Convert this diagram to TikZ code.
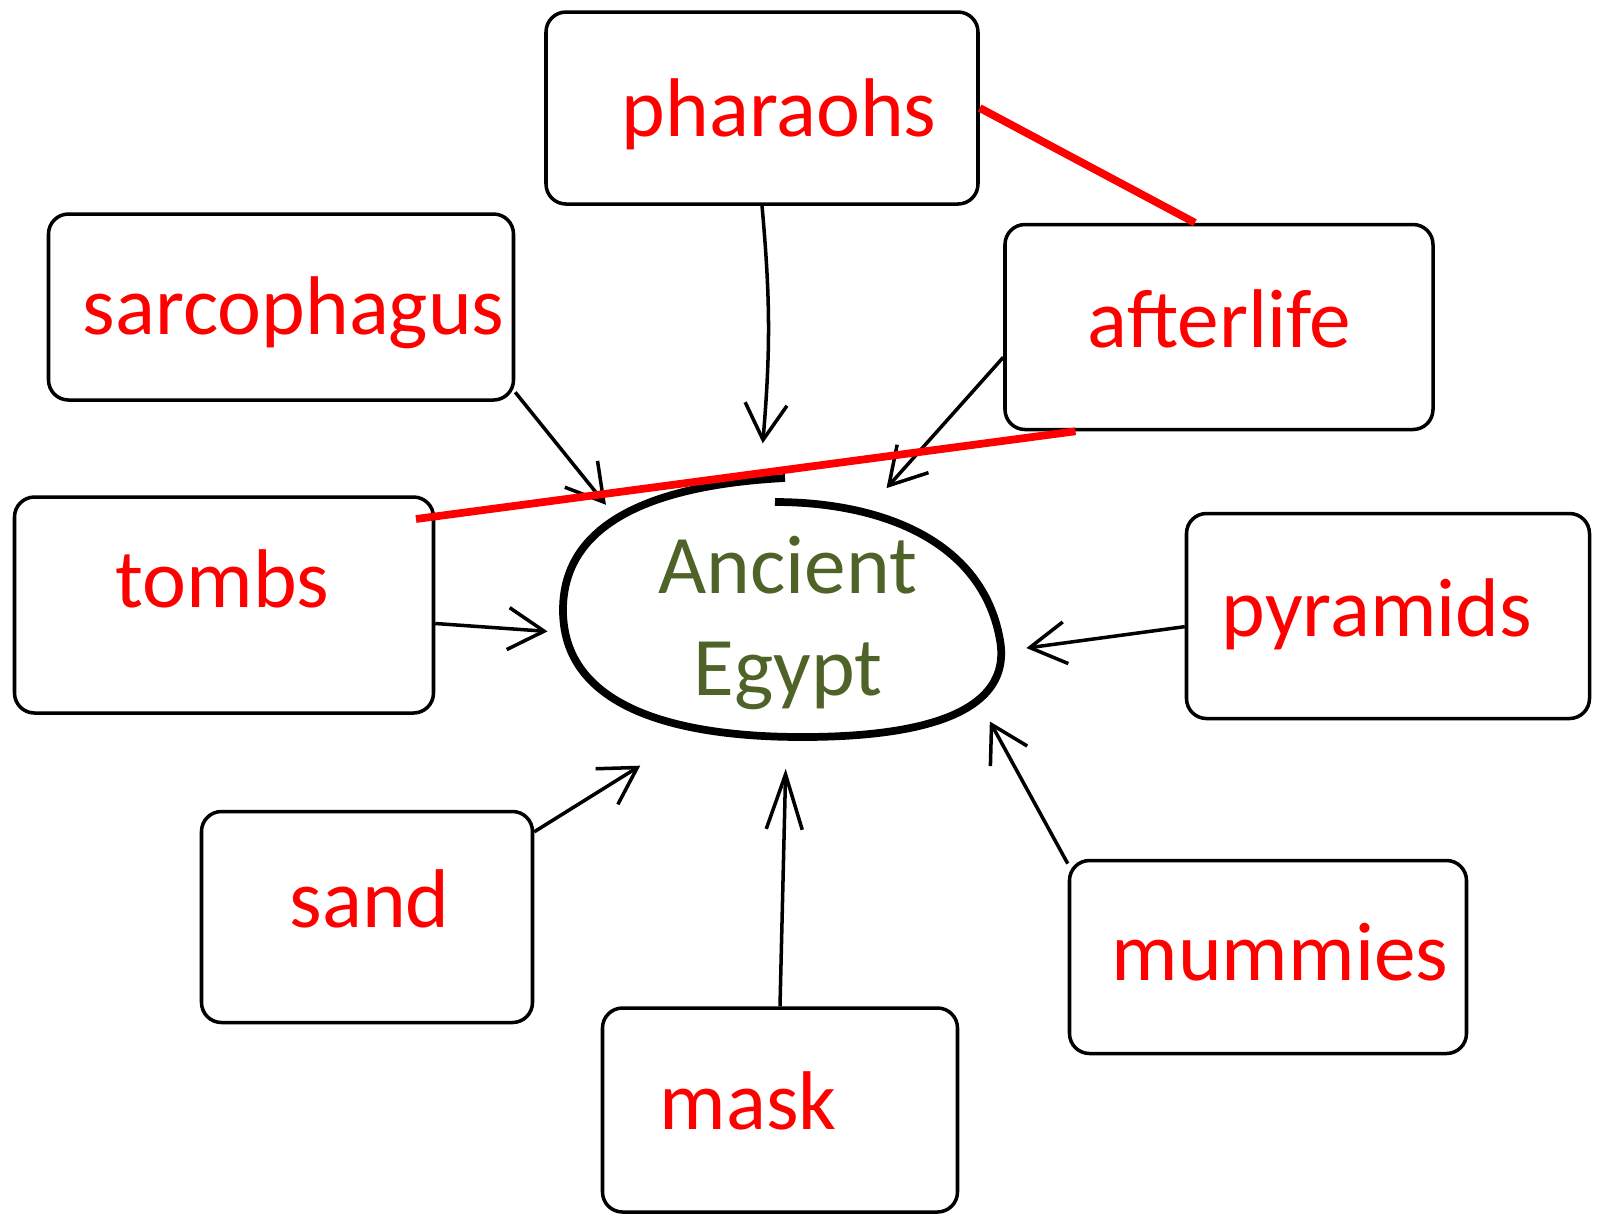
\documentclass[tikz,border=0pt]{standalone}
\usepackage{fontspec}
\setmainfont{Carlito}
\usetikzlibrary{shapes,arrows.meta}
\definecolor{olivetext}{RGB}{79,98,40}
\newcommand{\topic}[6]{
  \node[topicbox, minimum width=#3, minimum height=#4] (#1) at (#2) {};
  \node[topiclabel] (#1-label) at (#5) {#6};
}
\tikzset{
  topicbox/.style={draw, line width=1pt, rounded corners=0.2cm},
  topiclabel/.style={anchor=base west, inner sep=0pt, text=red,
                     font=\fontsize{23.7}{28}\selectfont},
  linkarrow/.style={line width=1pt, -{Straight Barb[length=3.6mm, width=4.2mm]}},
  redline/.style={red, line width=2.2pt}
}

\begin{document}
\begin{tikzpicture}
  \useasboundingbox (0,0) rectangle (16.01,-12.14);
  \topic{pharaohs}{7.62,-1.08}{4.32cm}{1.92cm}{6.21,-1.36}{pharaohs}
  \topic{sarcophagus}{2.81,-3.07}{4.65cm}{1.86cm}{0.82,-3.34}{sarcophagus}
  \topic{afterlife}{12.19,-3.27}{4.28cm}{2.05cm}{10.87,-3.47}{afterlife}
  \topic{tombs}{2.24,-6.05}{4.19cm}{2.16cm}{1.15,-6.07}{tombs}
  \topic{pyramids}{13.88,-6.16}{4.03cm}{2.05cm}{12.21,-6.36}{pyramids}
  \topic{sand}{3.67,-9.17}{3.31cm}{2.11cm}{2.89,-9.27}{sand}
  \topic{mask}{7.80,-11.10}{3.55cm}{2.04cm}{6.59,-11.29}{mask}
  \topic{mummies}{12.68,-9.57}{3.97cm}{1.93cm}{11.11,-9.80}{mummies}
  \node[ellipse, minimum width=4.8cm, minimum height=3.6cm, align=center,
        text=olivetext, font=\fontsize{23.7}{29}\selectfont] (egypt) at (7.88,-6.23) {Ancient\\Egypt};
  \draw[line width=2.2pt] (7.75,-5.02) to[out=0,in=100] (10.00,-6.40)
    to[out=-80,in=0] (8.02,-7.37) to[out=180,in=-90] (5.63,-6.10)
    to[out=90,in=183] (7.85,-4.78);
  \draw[linkarrow] (pharaohs.south) to[bend left=5] (egypt.98);
  \draw[linkarrow] (sarcophagus.-20) -- (egypt.147);
  \draw[linkarrow, shorten >=-0.3cm] (afterlife.188) -- (egypt.53);
  \draw[linkarrow] (tombs.-5) -- (egypt.182);
  \draw[linkarrow] (pyramids.183) -- (egypt.354);
  \draw[linkarrow] (sand.27) -- (egypt.224);
  \draw[linkarrow, -{Straight Barb[length=5.5mm, width=3.6mm]}, shorten >=-0.35cm] (mask.north) -- (egypt.269);
  \draw[linkarrow] (mummies.155) -- (egypt.334);
  \coordinate (tombsmark) at (4.16,-5.19);
  \draw[redline] (pharaohs.east) -- (afterlife.103);
  \draw[redline] (tombsmark) -- (afterlife.216);
\end{tikzpicture}
\end{document}
